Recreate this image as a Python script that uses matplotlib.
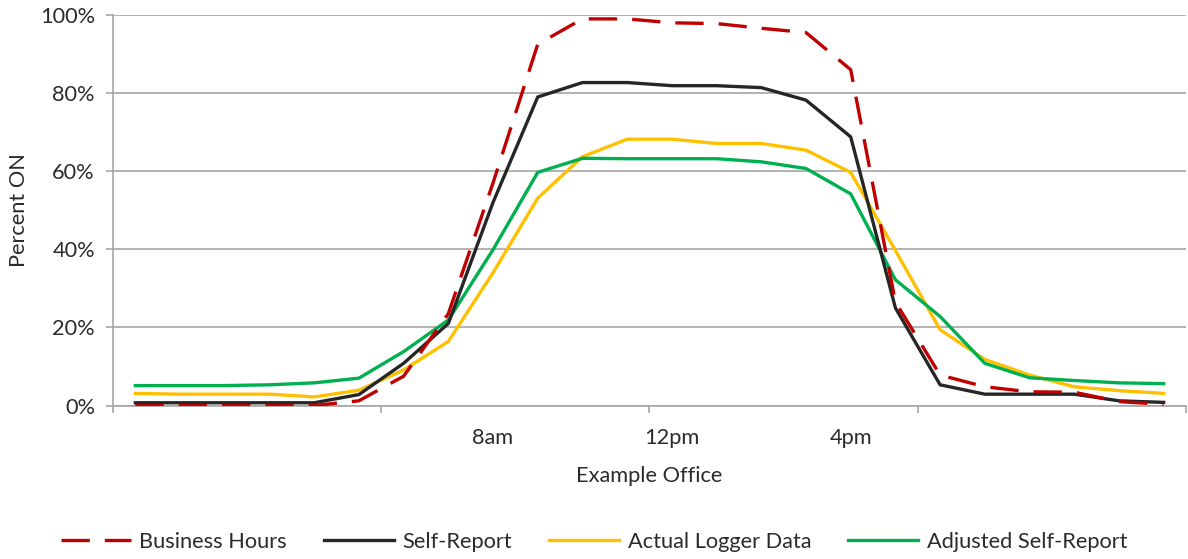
import numpy as np
import matplotlib.pyplot as plt
from matplotlib.ticker import FixedLocator, PercentFormatter

# hourly profile, index = hour of day (0..23), values in percent
hours = list(range(24))
business_hours = [0, 0, 0, 0, 0, 1.2, 7.5, 23.5, 57, 92.5, 99, 99,
                  98, 97.8, 96.6, 95.5, 86, 26.5, 7.8, 4.8, 3.5, 3.4, 1.0, 0.3]
self_report = [0.7, 0.7, 0.7, 0.7, 0.7, 2.8, 10.8, 21, 52, 79, 82.7, 82.7,
               81.9, 81.9, 81.4, 78.2, 68.8, 25, 5.3, 2.9, 2.9, 2.9, 1.2, 0.8]
logger_data = [3.1, 2.9, 2.9, 2.9, 2.2, 3.9, 9.1, 16.4, 34, 53.1, 63.7, 68.2,
               68.2, 67.1, 67.1, 65.4, 59.7, 39.7, 19.4, 11.8, 7.8, 4.8, 3.8, 3.1]
adjusted_report = [5.1, 5.1, 5.1, 5.3, 5.8, 7, 13.8, 21.9, 39.9, 59.7, 63.3, 63.2,
                   63.2, 63.2, 62.4, 60.7, 54.2, 32.2, 22.8, 10.8, 7.1, 6.4, 5.8, 5.6]

label_hours = [8, 12, 16]
label_text = ['8am', '12pm', '4pm']

plt.rcParams['font.family'] = ['Lato', 'DejaVu Sans']
txt = '#2b2b2b'
grid = '#a6a6a6'
fs = 15.7

fig = plt.figure(figsize=(11.88, 5.59), dpi=100)
ax = fig.add_axes([113 / 1188, 153.5 / 559, 1073 / 1188, 390.5 / 559])

lw = 2.4
ax.plot(hours, business_hours, color='#C00000', lw=lw, dashes=(8.5, 4.5),
        label='Business Hours', zorder=5)
ax.plot(hours, self_report, color='#262626', lw=lw, label='Self-Report', zorder=4)
ax.plot(hours, logger_data, color='#FFC000', lw=lw, label='Actual Logger Data', zorder=3)
ax.plot(hours, adjusted_report, color='#00B050', lw=lw, label='Adjusted Self-Report', zorder=3)

ax.set_xlim(-0.5, 23.5)
ax.set_ylim(0, 100)
ax.set_yticks(np.arange(0, 101, 20))
ax.yaxis.set_major_formatter(PercentFormatter(decimals=0))
ax.grid(axis='y', color=grid, lw=1.2)
ax.set_axisbelow(True)

# category boundaries get tick marks, labels sit on hour centres
ax.xaxis.set_major_locator(FixedLocator([-0.5, 5.5, 11.5, 17.5, 23.5]))
ax.xaxis.set_major_formatter(plt.NullFormatter())
ax.xaxis.set_minor_locator(FixedLocator(label_hours))
ax.set_xticklabels(label_text, minor=True)
ax.tick_params(axis='x', which='major', length=5, width=1.2, color=grid)
ax.tick_params(axis='x', which='minor', length=0, pad=16, labelsize=fs, labelcolor=txt)
ax.tick_params(axis='y', length=5, width=1.2, color=grid, labelsize=fs, labelcolor=txt, pad=8)

for s in ['top', 'right']:
    ax.spines[s].set_visible(False)
for s in ['left', 'bottom']:
    ax.spines[s].set_color(grid)
    ax.spines[s].set_linewidth(1.2)

ax.set_xlabel('Example Office', fontsize=fs, color=txt, labelpad=13)
ax.set_ylabel('Percent ON', fontsize=fs, color=txt, labelpad=8)

fig.legend(loc='lower center', bbox_to_anchor=(0.5, -0.022), ncol=4, frameon=False,
           fontsize=fs, handlelength=3.2, handletextpad=0.4, columnspacing=1.7,
           labelcolor=txt)

fig.savefig('out.png', dpi=100)
